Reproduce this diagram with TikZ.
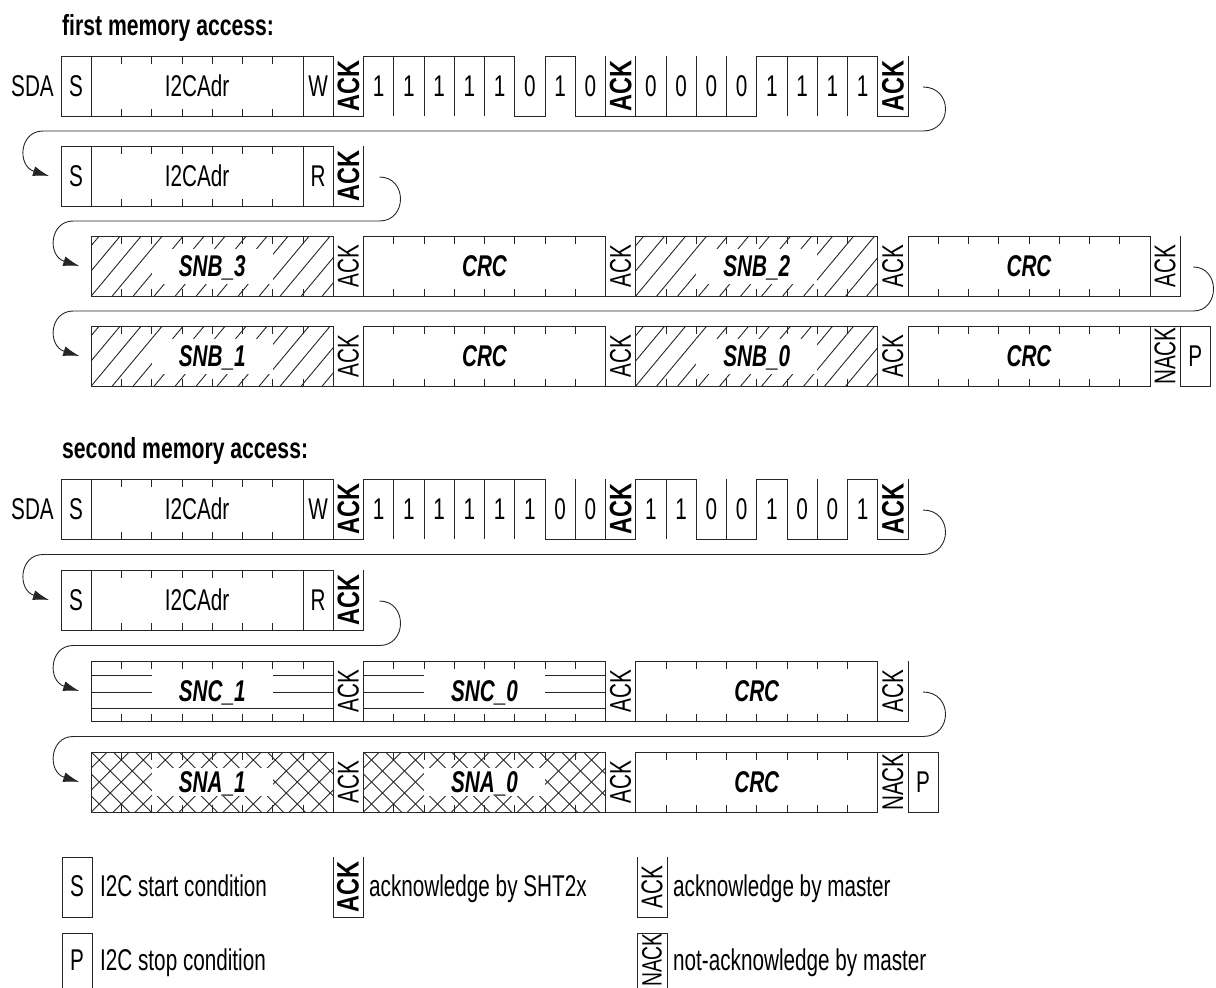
\documentclass[tikz,border=0pt]{standalone}
\usepackage{fontspec}
\usepackage{graphicx}
\setmainfont{Liberation Sans}[FakeStretch=0.69]
\newfontfamily\ackfont{Liberation Sans}[FakeStretch=0.76]
\newfontfamily\titfont{Liberation Sans}[FakeStretch=0.73]
\usetikzlibrary{arrows.meta}

\newcommand\AckB{\rotatebox{90}{\ackfont\fontsize{31}{34}\selectfont\bfseries ACK}}
\newcommand\AckT{\rotatebox{90}{ACK}}
\newcommand\NackT{\rotatebox{90}{NACK}}
\newcommand\NackL{\rotatebox{90}{\fontsize{28}{32}\selectfont NACK}}

% plain one-slot box
\newcommand\pbox[4]{%
  \pgfmathsetmacro\xa{61+30.25*#2}%
  \draw[ln] (\xa,#3) rectangle ++(30.25,60);
  \node[lbl] (#1) at ({\xa+15.125},{#3+30}) {#4};}
% low slot (bottom line)
\newcommand\lowslot[4]{%
  \pgfmathsetmacro\xa{61+30.25*#2}%
  \draw[ln] (\xa,#3) -- (\xa,{#3+60}) -- ({\xa+30.25},{#3+60}) -- ({\xa+30.25},#3);
  \node (#1) at ({\xa+15.125},{#3+30}) {#4};}
% high slot (top line)
\newcommand\highslot[4]{%
  \pgfmathsetmacro\xa{61+30.25*#2}%
  \draw[ln] (\xa,{#3+60}) -- (\xa,#3) -- ({\xa+30.25},#3) -- ({\xa+30.25},{#3+60});
  \node (#1) at ({\xa+15.125},{#3+30}) {#4};}
% sequence of bits
\newcommand\bits[3]{\foreach \s/\v in {#3}{\ifnum\v=1 \highslot{#1\s}{\s}{#2}{1}\else\lowslot{#1\s}{\s}{#2}{0}\fi}}
% box with ticks
\newcommand\tbox[6]{%
  \pgfmathsetmacro\xa{61+30.25*#2}%
  \pgfmathsetmacro\xb{61+30.25*(#2+#3)}%
  \pgfmathtruncatemacro\nk{#3-1}%
  \draw[ln] (\xa,#4) rectangle (\xb,{#4+60});
  \foreach \k in {1,...,\nk} {
    \draw[ln] ({\xa+30.25*\k},#4) -- ++(0,7.5);
    \draw[ln] ({\xa+30.25*\k},{#4+60}) -- ++(0,-7.5);
  }
  \node[#5] (#1) at ({(\xa+\xb)/2},{#4+30}) {#6};}
% single hatch
\newcommand\hatchS[3]{%
  \pgfmathsetmacro\xa{61+30.25*#1}%
  \pgfmathsetmacro\xb{61+30.25*(#1+#2)}%
  \begin{scope}
    \clip (\xa,#3) rectangle (\xb,{#3+60});
    \foreach \j in {-3,...,13} \draw[hl] ({\xa+\j*21},{#3+60}) -- ++(50,-60);
  \end{scope}}
% cross hatch
\newcommand\hatchX[3]{%
  \pgfmathsetmacro\xa{61+30.25*#1}%
  \pgfmathsetmacro\xb{61+30.25*(#1+#2)}%
  \begin{scope}
    \clip (\xa,#3) rectangle (\xb,{#3+60});
    \foreach \j in {-3,...,12} {
      \draw[hl] ({\xa+\j*22},{#3+60}) -- ++(60,-60);
      \draw[hl] ({\xa+\j*22},#3) -- ++(60,60);
    }
  \end{scope}}
% horizontal lines
\newcommand\hlines[3]{%
  \pgfmathsetmacro\xa{61+30.25*#1}%
  \pgfmathsetmacro\xb{61+30.25*(#1+#2)}%
  \pgfmathsetmacro\xc{(\xa+\xb)/2}%
  \foreach \o in {14,31} {
    \draw[ln] (\xa,{#3+\o}) -- ({\xc-60.5},{#3+\o});
    \draw[ln] ({\xc+60.5},{#3+\o}) -- (\xb,{#3+\o});
  }
  \draw[ln] (\xa,{#3+47}) -- (\xb,{#3+47});}
% row-to-row connector
\newcommand\turn[8]{%
  \coordinate (#1-from) at ({#2+#7},{#3+1});
  \coordinate (#1-to) at ({#5-12},#6);
  \draw[conn] (#1-from) .. controls ({#2+#8},{#3+1}) and ({#2+#8},#4) .. ({#2+#7},#4)
     -- ({#5-18},#4) .. controls ({#5-42},#4) and ({#5-44},{#6-10}) .. (#1-to);}

\begin{document}
\begin{tikzpicture}[x=1pt,y=-1pt,
  font=\fontsize{30}{34}\selectfont, inner sep=0pt,
  ln/.style={line width=1pt, draw=black!85},
  hl/.style={line width=0.9pt, draw=black!85},
  lbl/.style={text height=21.5pt, text depth=0pt},
  blbl/.style={font=\fontsize{30}{34}\selectfont\bfseries\itshape, text height=21.5pt, text depth=0pt},
  clr/.style={fill=white, minimum width=121pt, minimum height=35pt},
  clrx/.style={fill=white, minimum width=121pt, minimum height=28pt},
  tit/.style={font=\titfont\fontsize{29}{32}\selectfont\bfseries, anchor=base west},
  leg/.style={anchor=base west},
  conn/.style={line width=0.9pt, draw=black!85, -{Latex[length=16pt,width=10pt]}}]
\useasboundingbox (0,0) rectangle (1216,988);

% ---------------- first memory access ----------------
\node[tit] (t1) at (62,35) {first memory access:};
\node[anchor=east] (sda1) at (54,86) {SDA};
% row 1
\pbox{faS}{0}{56}{S}
\tbox{faAdr}{1}{7}{56}{lbl}{I2CAdr}
\pbox{faW}{8}{56}{W}
\lowslot{faKa}{9}{56}{\AckB}
\bits{fa}{56}{10/1,11/1,12/1,13/1,14/1,15/0,16/1,17/0}
\lowslot{faKb}{18}{56}{\AckB}
\bits{fa}{56}{19/0,20/0,21/0,22/0,23/1,24/1,25/1,26/1}
\lowslot{faKc}{27}{56}{\AckB}
% row 2
\pbox{fbS}{0}{146}{S}
\tbox{fbAdr}{1}{7}{146}{lbl}{I2CAdr}
\pbox{fbR}{8}{146}{R}
\lowslot{fbK}{9}{146}{\AckB}
% row 3
\hatchS{1}{8}{236}
\tbox{fcB3}{1}{8}{236}{blbl,clr}{SNB\_3}
\lowslot{fcKa}{9}{236}{\AckT}
\tbox{fcC1}{10}{8}{236}{blbl}{CRC}
\lowslot{fcKb}{18}{236}{\AckT}
\hatchS{19}{8}{236}
\tbox{fcB2}{19}{8}{236}{blbl,clr}{SNB\_2}
\lowslot{fcKc}{27}{236}{\AckT}
\tbox{fcC2}{28}{8}{236}{blbl}{CRC}
\lowslot{fcKd}{36}{236}{\AckT}
% row 4
\hatchS{1}{8}{326}
\tbox{fdB1}{1}{8}{326}{blbl,clr}{SNB\_1}
\lowslot{fdKa}{9}{326}{\AckT}
\tbox{fdC1}{10}{8}{326}{blbl}{CRC}
\lowslot{fdKb}{18}{326}{\AckT}
\hatchS{19}{8}{326}
\tbox{fdB0}{19}{8}{326}{blbl,clr}{SNB\_0}
\lowslot{fdKc}{27}{326}{\AckT}
\tbox{fdC2}{28}{8}{326}{blbl}{CRC}
\highslot{fdN}{36}{326}{\NackT}
\pbox{fdP}{37}{326}{P}
% connectors
\turn{ta}{908}{86}{131}{61}{176}{15}{45}
\turn{tb}{363.5}{176}{221}{91.25}{266}{16}{44}
\turn{tc}{1180.25}{266}{311}{91.25}{356}{13}{40}

% ---------------- second memory access ----------------
\node[tit] (t2) at (62,458) {second memory access:};
\node[anchor=east] (sda2) at (54,509) {SDA};
% row 1
\pbox{saS}{0}{479}{S}
\tbox{saAdr}{1}{7}{479}{lbl}{I2CAdr}
\pbox{saW}{8}{479}{W}
\lowslot{saKa}{9}{479}{\AckB}
\bits{sa}{479}{10/1,11/1,12/1,13/1,14/1,15/1,16/0,17/0}
\lowslot{saKb}{18}{479}{\AckB}
\bits{sa}{479}{19/1,20/1,21/0,22/0,23/1,24/0,25/0,26/1}
\lowslot{saKc}{27}{479}{\AckB}
% row 2
\pbox{sbS}{0}{570}{S}
\tbox{sbAdr}{1}{7}{570}{lbl}{I2CAdr}
\pbox{sbR}{8}{570}{R}
\lowslot{sbK}{9}{570}{\AckB}
% row 3
\hlines{1}{8}{661}
\tbox{scS1}{1}{8}{661}{blbl}{SNC\_1}
\lowslot{scKa}{9}{661}{\AckT}
\hlines{10}{8}{661}
\tbox{scS0}{10}{8}{661}{blbl}{SNC\_0}
\lowslot{scKb}{18}{661}{\AckT}
\tbox{scC}{19}{8}{661}{blbl}{CRC}
\lowslot{scKc}{27}{661}{\AckT}
% row 4
\hatchX{1}{8}{752}
\tbox{sdA1}{1}{8}{752}{blbl,clrx}{SNA\_1}
\lowslot{sdKa}{9}{752}{\AckT}
\hatchX{10}{8}{752}
\tbox{sdA0}{10}{8}{752}{blbl,clrx}{SNA\_0}
\lowslot{sdKb}{18}{752}{\AckT}
\tbox{sdC}{19}{8}{752}{blbl}{CRC}
\highslot{sdN}{27}{752}{\NackT}
\pbox{sdP}{28}{752}{P}
% connectors
\turn{td}{908}{509}{554.5}{61}{600}{15}{45}
\turn{te}{363.5}{600}{645.5}{91.25}{691}{16}{44}
\turn{tf}{908}{691}{736.5}{91.25}{782}{15}{45}

% ---------------- legend ----------------
\draw[ln] (62,857) rectangle (92,917);
\node (lgS) at (77,886) {S};
\node[leg] (lgSt) at (100,896) {I2C start condition};
\draw[ln] (62,988) -- (62,933) -- (92,933) -- (92,988);
\node (lgP) at (77,960) {P};
\node[leg] (lgPt) at (100,970) {I2C stop condition};
\draw[ln] (333,857) -- (333,917) -- (363,917) -- (363,857);
\node (lgKB) at (348,887) {\AckB};
\node[leg] (lgKBt) at (369,896) {acknowledge by SHT2x};
\draw[ln] (637,857) -- (637,917) -- (667,917) -- (667,857);
\node (lgKT) at (652,887) {\AckT};
\node[leg] (lgKTt) at (673,896) {acknowledge by master};
\draw[ln] (637,988) -- (637,933) -- (667,933) -- (667,988);
\node (lgN) at (652,960) {\NackL};
\node[leg] (lgNt) at (673,970) {not-acknowledge by master};
\end{tikzpicture}
\end{document}
